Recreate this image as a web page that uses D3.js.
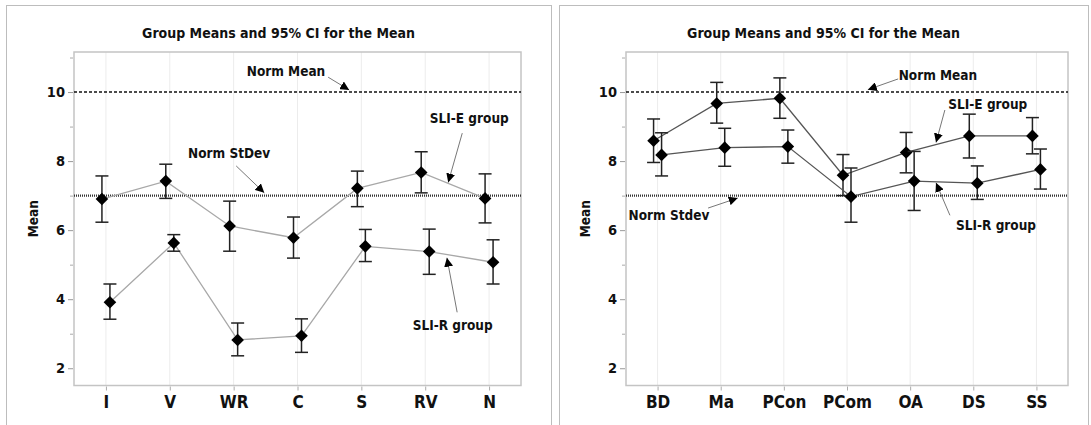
<!DOCTYPE html>
<html>
<head>
<meta charset="utf-8">
<script src="https://cdn.jsdelivr.net/npm/d3@7"></script>
<style>
  body { margin: 0; background: #fff; }
  svg text { font-family: "DejaVu Sans Condensed", "DejaVu Sans", Verdana, sans-serif; font-stretch: condensed; font-weight: bold; fill: #111; }
</style>
</head>
<body>
<svg id="chart" width="1091" height="425"></svg>
<script>
// ---- data ----
var leftCats = ["I", "V", "WR", "C", "S", "RV", "N"];
var leftEMean = [6.90, 7.42, 6.12, 5.78, 7.21, 7.67, 6.92];
var leftELow  = [6.23, 6.92, 5.39, 5.19, 6.68, 7.08, 6.21];
var leftEHigh = [7.57, 7.91, 6.84, 6.38, 7.71, 8.27, 7.63];
var leftRMean = [3.91, 5.63, 2.82, 2.94, 5.53, 5.38, 5.07];
var leftRLow  = [3.42, 5.39, 2.36, 2.46, 5.09, 4.72, 4.44];
var leftRHigh = [4.44, 5.87, 3.31, 3.43, 6.02, 6.03, 5.72];

var rightCats = ["BD", "Ma", "PCon", "PCom", "OA", "DS", "SS"];
var rightEMean = [8.59, 9.67, 9.82, 7.59, 8.25, 8.73, 8.73];
var rightELow  = [7.96, 9.10, 9.24, 7.00, 7.66, 8.09, 8.21];
var rightEHigh = [9.22, 10.28, 10.41, 8.19, 8.83, 9.36, 9.26];
var rightRMean = [8.18, 8.39, 8.42, 6.97, 7.42, 7.36, 7.76];
var rightRLow  = [7.57, 7.85, 7.94, 6.23, 6.57, 6.89, 7.19];
var rightRHigh = [8.82, 8.95, 8.90, 7.80, 8.28, 7.86, 8.35];

var normMean = 10;
var normStdev = 7;
var yMajorTicks = [2, 4, 6, 8, 10];
var yMinorTicks = [3, 5, 7, 9, 11];
var yDomain = [1.5, 11.16];
var chartTitle = "Group Means and 95% CI for the Mean";

// annotation anchors in data space: u = position in category steps, v = value
var leftNotes = [
  {text: "Norm Mean",   tu: 3.32, tv: 10.61, fu: 3.98, fv: 10.43, au: 4.31, av: 10.06},
  {text: "Norm StDev",  tu: 2.43, tv: 8.23,  fu: 2.54, fv: 7.86,  au: 2.98, av: 7.08},
  {text: "SLI-E group", tu: 6.19, tv: 9.25,  fu: 6.08, fv: 8.81,  au: 5.86, av: 7.38},
  {text: "SLI-R group", tu: 5.93, tv: 3.25,  fu: 6.00, fv: 3.62,  au: 5.84, av: 5.20}
];
var rightNotes = [
  {text: "Norm Mean",   tu: 4.94, tv: 10.49, fu: 4.31, fv: 10.38, au: 3.83, av: 10.07},
  {text: "SLI-E group", tu: 5.73, tv: 9.65,  fu: 5.05, fv: 9.48,  au: 4.91, av: 8.54},
  {text: "Norm Stdev",  tu: 0.68, tv: 6.43,  fu: 1.30, fv: 6.64,  au: 1.77, av: 6.93},
  {text: "SLI-R group", tu: 5.86, tv: 6.14,  fu: 5.13, fv: 6.43,  au: 4.91, av: 7.37}
];

var svg = d3.select("#chart");

svg.append("defs").append("marker")
    .attr("id", "arrow")
    .attr("viewBox", "0 0 10 10")
    .attr("refX", 10).attr("refY", 5)
    .attr("markerWidth", 9).attr("markerHeight", 9)
    .attr("markerUnits", "userSpaceOnUse")
    .attr("orient", "auto")
  .append("path")
    .attr("d", "M0,0 L10,5 L0,10 z")
    .attr("fill", "#000");

function rows(cats, mean, low, high) {
  return cats.map(function(c, i) { return {cat: c, mean: mean[i], low: low[i], high: high[i]}; });
}

function drawPanel(p) {
  var g = svg.append("g");

  // outer frame
  g.append("rect")
      .attr("x", p.frame[0] + 0.5).attr("y", 5.5)
      .attr("width", p.frame[1] - p.frame[0]).attr("height", 440)
      .attr("fill", "none").attr("stroke", "#bdbdbd");

  var x = d3.scalePoint().domain(p.cats).range([p.left, p.right]).padding(0.5);
  var y = d3.scaleLinear().domain(yDomain).range([p.bottom, p.top]);
  var step = x.step();
  function ux(u) { return p.left + u * step; }

  g.append("text")
      .attr("x", (p.frame[0] + p.frame[1]) / 2).attr("y", 33)
      .attr("dy", "0.35em").attr("text-anchor", "middle")
      .style("font-size", "14px")
      .text(chartTitle);

  // gridlines
  g.selectAll(".grid").data(p.cats).enter().append("line")
      .attr("x1", function(d) { return x(d); }).attr("x2", function(d) { return x(d); })
      .attr("y1", p.top).attr("y2", p.bottom)
      .attr("stroke", "#ececec");

  // axes
  var yAxis = g.append("g")
      .attr("transform", "translate(" + (p.left - 1) + ",0)")
      .call(d3.axisLeft(y).tickValues(yMajorTicks).tickSize(5).tickPadding(3));
  yAxis.select(".domain").remove();
  yAxis.selectAll("line").attr("stroke", "#999");
  yAxis.selectAll("text").style("font-size", "14.5px").attr("fill", "#111");

  var yMinor = g.append("g")
      .attr("transform", "translate(" + (p.left - 1) + ",0)")
      .call(d3.axisLeft(y).tickValues(yMinorTicks).tickSize(3).tickFormat(""));
  yMinor.select(".domain").remove();
  yMinor.selectAll("line").attr("stroke", "#aaa");

  var xAxis = g.append("g")
      .attr("transform", "translate(0," + (p.bottom + 1) + ")")
      .call(d3.axisBottom(x).tickSize(4).tickPadding(5));
  xAxis.select(".domain").remove();
  xAxis.selectAll("line").attr("stroke", "#aaa");
  xAxis.selectAll("text").style("font-size", "17px").attr("fill", "#111");

  g.append("text")
      .attr("transform", "translate(" + p.ylab + "," + ((p.top + p.bottom) / 2) + ") rotate(-90)")
      .attr("text-anchor", "middle").attr("dy", "0.35em")
      .style("font-size", "13.5px")
      .text("Mean");

  // plot border
  g.append("rect")
      .attr("x", p.left).attr("y", p.top)
      .attr("width", p.right - p.left).attr("height", p.bottom - p.top)
      .attr("fill", "none").attr("stroke", "#c4c4c4").attr("stroke-width", 1.5);

  // reference lines
  g.append("line")
      .attr("x1", p.left).attr("x2", p.right)
      .attr("y1", y(normMean)).attr("y2", y(normMean))
      .attr("stroke", "#111").attr("stroke-width", 1.4).attr("stroke-dasharray", "3,2");
  g.append("line")
      .attr("x1", p.left).attr("x2", p.right)
      .attr("y1", y(normStdev)).attr("y2", y(normStdev))
      .attr("stroke", "#333").attr("stroke-width", 2.2).attr("stroke-dasharray", "1,1");

  // series
  p.series.forEach(function(s) {
    var line = d3.line()
        .x(function(d) { return x(d.cat) + s.offset; })
        .y(function(d) { return y(d.mean); });
    g.append("path")
        .datum(s.data)
        .attr("d", line)
        .attr("fill", "none").attr("stroke", p.lineColor).attr("stroke-width", 1.3);

    var bars = g.selectAll(".bar-" + s.name).data(s.data).enter().append("g");
    bars.append("line")
        .attr("x1", function(d) { return x(d.cat) + s.offset; })
        .attr("x2", function(d) { return x(d.cat) + s.offset; })
        .attr("y1", function(d) { return y(d.low); })
        .attr("y2", function(d) { return y(d.high); })
        .attr("stroke", "#222").attr("stroke-width", 1.5);
    [function(d) { return y(d.low); }, function(d) { return y(d.high); }].forEach(function(fy) {
      bars.append("line")
          .attr("x1", function(d) { return x(d.cat) + s.offset - 6.5; })
          .attr("x2", function(d) { return x(d.cat) + s.offset + 6.5; })
          .attr("y1", fy).attr("y2", fy)
          .attr("stroke", "#222").attr("stroke-width", 1.5);
    });
    g.selectAll(".pt-" + s.name).data(s.data).enter().append("path")
        .attr("d", function(d) {
          var cx = x(d.cat) + s.offset, cy = y(d.mean), r = 6.3;
          return "M" + cx + "," + (cy - r) + "L" + (cx + r) + "," + cy +
                 "L" + cx + "," + (cy + r) + "L" + (cx - r) + "," + cy + "Z";
        })
        .attr("fill", "#000");
  });

  // annotations
  p.notes.forEach(function(n) {
    g.append("line")
        .attr("x1", ux(n.fu)).attr("y1", y(n.fv))
        .attr("x2", ux(n.au)).attr("y2", y(n.av))
        .attr("stroke", "#777").attr("stroke-width", 1)
        .attr("marker-end", "url(#arrow)");
    g.append("text")
        .attr("x", ux(n.tu)).attr("y", y(n.tv))
        .attr("dy", "0.35em").attr("text-anchor", "middle")
        .style("font-size", "13.5px")
        .text(n.text);
  });
}

drawPanel({
  frame: [6, 551], left: 74, right: 521, top: 52, bottom: 385.5, ylab: 33,
  cats: leftCats, lineColor: "#a8a8a8", notes: leftNotes,
  series: [
    {name: "e", offset: -4, data: rows(leftCats, leftEMean, leftELow, leftEHigh)},
    {name: "r", offset: 4, data: rows(leftCats, leftRMean, leftRLow, leftRHigh)}
  ]
});

drawPanel({
  frame: [559, 1088], left: 626, right: 1068, top: 52, bottom: 385.5, ylab: 585,
  cats: rightCats, lineColor: "#555", notes: rightNotes,
  series: [
    {name: "e", offset: -4, data: rows(rightCats, rightEMean, rightELow, rightEHigh)},
    {name: "r", offset: 4, data: rows(rightCats, rightRMean, rightRLow, rightRHigh)}
  ]
});
</script>
</body>
</html>
